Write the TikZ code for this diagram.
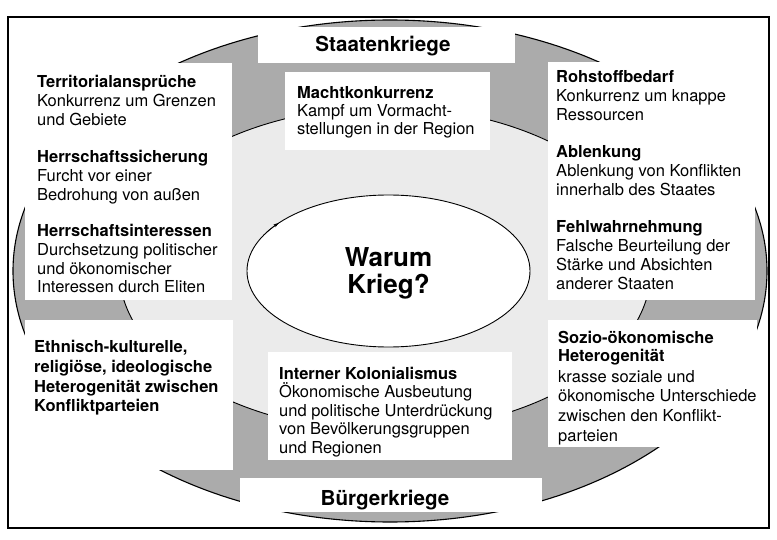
\documentclass[tikz,border=0pt]{standalone}
\usepackage{fontspec}
\setmainfont{TeX Gyre Heros}
\usetikzlibrary{shapes.geometric,arrows.meta}
\newcommand{\txtblock}[2]{\parbox[t]{240pt}{\raggedright\fontsize{16.5}{#1}\selectfont\lineskiplimit=-100pt #2}}
\begin{document}
\begin{tikzpicture}[x=1pt,y=1pt,
  ringfill/.style={fill=black!33, draw=black, line width=1.1pt},
  innerfill/.style={fill=black!8, draw=black, line width=0.9pt},
  whitebox/.style={fill=white},
  txt/.style={anchor=base west, inner sep=0pt},
  head/.style={anchor=base, inner sep=0pt, font=\fontsize{20.6}{24}\selectfont\bfseries},
  bighead/.style={anchor=base, inner sep=0pt, font=\fontsize{26}{30}\selectfont\bfseries},
]
\useasboundingbox (0,0) rectangle (777,539);
\fill[white] (0,0) rectangle (777,539);
% ring
\path[ringfill] (390,268) ellipse [x radius=377pt, y radius=251pt];
\path[innerfill] (385,270) ellipse [x radius=266pt, y radius=162pt];
\node[ellipse, draw, fill=white, line width=0.9pt, minimum width=283pt, minimum height=152pt, inner sep=0pt] (warum) at (388.5,268) {};
\draw[line width=0.6pt, -{Stealth[length=5pt,width=3.5pt]}] (warum.center) ++(150:141.5pt and 76pt) arc[start angle=150, end angle=141, x radius=141.5pt, y radius=76pt];
% white boxes
\fill[whitebox] (258,512) rectangle (515,476);
\fill[whitebox] (285,467) rectangle (490,389);
\fill[whitebox] (25,476) rectangle (232,239);
\fill[whitebox] (25,219) rectangle (233,69);
\fill[whitebox] (268,187) rectangle (512,79);
\fill[whitebox] (240,61) rectangle (542,27);
\fill[whitebox] (548,477) rectangle (755,239);
\fill[whitebox] (548,219) rectangle (757,92);
% frame
\draw[line width=1.3pt] (8,522) rectangle (769,11);
% headings
\node[head] (staaten) at (383,487) {Staatenkriege};
\node[head] (buerger) at (385,34) {Bürgerkriege};
\node[bighead] (w1) at (388.5,272) {Warum};
\node[bighead] (w2) at (388.5,245) {Krieg?};
% left
\node[txt] (terr) at (37,451) {\txtblock{18.6}{\textbf{Territorialansprüche}\\Konkurrenz um Grenzen\\und Gebiete}};
\node[txt] (hsich) at (37,376) {\txtblock{18.6}{\textbf{Herrschaftssicherung}\\Furcht vor einer\\Bedrohung von außen}};
\node[txt] (hint) at (37,302) {\txtblock{18.6}{\textbf{Herrschaftsinteressen}\\Durchsetzung politischer\\und ökonomischer\\Interessen durch Eliten}};
\node[txt] (ethn) at (34,186) {\txtblock{19.5}{\bfseries Ethnisch-kulturelle,\\religiöse, ideologische\\Heterogenität zwischen\\Konfliktparteien}};
% middle
\node[txt] (macht) at (297,440) {\txtblock{18}{\textbf{Machtkonkurrenz}\\Kampf um Vormacht-\\stellungen in der Region}};
\node[txt] (kolon) at (279,160) {\txtblock{18.5}{\textbf{Interner Kolonialismus}\\Ökonomische Ausbeutung\\und politische Unterdrückung\\von Bevölkerungsgruppen\\und Regionen}};
% right
\node[txt] (rohst) at (556,456) {\txtblock{18.75}{\textbf{Rohstoffbedarf}\\Konkurrenz um knappe\\Ressourcen}};
\node[txt] (ablenk) at (556,381) {\txtblock{18.75}{\textbf{Ablenkung}\\Ablenkung von Konflikten\\innerhalb des Staates}};
\node[txt] (fehl) at (556,306) {\txtblock{18.75}{\textbf{Fehlwahrnehmung}\\Falsche Beurteilung der\\Stärke und Absichten\\anderer Staaten}};
\node[txt] (sozio) at (558,196) {\txtblock{18}{\bfseries Sozio-ökonomische\\Heterogenität}};
\node[txt] (sozio2) at (558,157) {\txtblock{19.7}{krasse soziale und\\ökonomische Unterschiede\\zwischen den Konflikt-\\parteien}};
\end{tikzpicture}
\end{document}
